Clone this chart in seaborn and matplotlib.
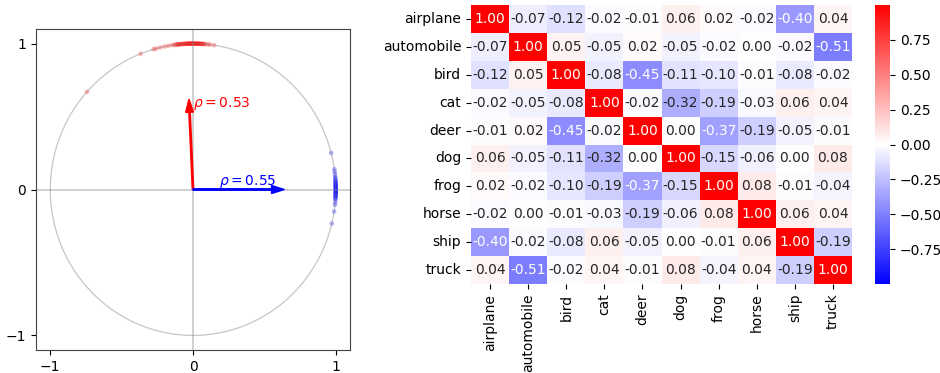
import numpy as np
import pandas as pd
import matplotlib
matplotlib.use("Agg")
import matplotlib.pyplot as plt
import seaborn as sns

# Angles (degrees) of the embedded samples on the unit circle, per class
red_angles = [138, 111.5, 106, 105, 103.3, 101.5, 100, 98.5, 97.5, 97, 96.5, 96,
              95.5, 95, 94.5, 94, 93.5, 93, 92.5, 92, 91.5, 91, 90.5, 90, 89.5,
              89, 88.5, 88, 87.5, 87, 86.5, 86, 85.5, 85, 84, 83.2, 81.5,
              93, 92, 91, 90, 89, 88, 87, 92.5, 90.5, 88.5, 96, 95, 94,
              91.5, 89.5, 87.5, 86]
blue_angles = [14.5, 8, 7, 6, 5, 4.5, 4, 3.5, 3, 2.5, 2, 1.5, 1, 0.5, 0, -0.5,
               -1, -1.5, -2, -2.5, -3, -3.5, -4, -5, -6, -8.7, -13.5,
               2, 1, 0, -1, -2, 3, -3, 0.5, -0.5, 1.5, -1.5]

# Mean direction (degrees) and concentration of each class
arrow_angles = [92.6, 0.0]
rhos = [0.53, 0.55]
arrow_colors = ["red", "blue"]

classes = ["airplane", "automobile", "bird", "cat", "deer",
           "dog", "frog", "horse", "ship", "truck"]
corr = [
    [1.00, -0.07, -0.12, -0.02, -0.01, 0.06, 0.02, -0.02, -0.40, 0.04],
    [-0.07, 1.00, 0.05, -0.05, 0.02, -0.05, -0.02, 0.00, -0.02, -0.51],
    [-0.12, 0.05, 1.00, -0.08, -0.45, -0.11, -0.10, -0.01, -0.08, -0.02],
    [-0.02, -0.05, -0.08, 1.00, -0.02, -0.32, -0.19, -0.03, 0.06, 0.04],
    [-0.01, 0.02, -0.45, -0.02, 1.00, 0.00, -0.37, -0.19, -0.05, -0.01],
    [0.06, -0.05, -0.11, -0.32, 0.00, 1.00, -0.15, -0.06, 0.00, 0.08],
    [0.02, -0.02, -0.10, -0.19, -0.37, -0.15, 1.00, 0.08, -0.01, -0.04],
    [-0.02, 0.00, -0.01, -0.03, -0.19, -0.06, 0.08, 1.00, 0.06, 0.04],
    [-0.40, -0.02, -0.08, 0.06, -0.05, 0.00, -0.01, 0.06, 1.00, -0.19],
    [0.04, -0.51, -0.02, 0.04, -0.01, 0.08, -0.04, 0.04, -0.19, 1.00],
]
cbar_ticks = [-0.75, -0.5, -0.25, 0.0, 0.25, 0.5, 0.75]

fig = plt.figure(figsize=(9.4, 3.73), dpi=100)
ax = fig.add_axes([36 / 940, 23 / 373, 314 / 940, 321 / 373])
hax = fig.add_axes([471 / 940, 89 / 373, 381 / 940, 279 / 373])
cax = fig.add_axes([875 / 940, 89 / 373, 15 / 940, 279 / 373])

# Unit circle and reference axes
t = np.linspace(0, 2 * np.pi, 400)
ax.plot(np.cos(t), np.sin(t), color="gray", lw=0.9, alpha=0.45)
ax.axhline(0, color="gray", lw=1.3, alpha=0.4)
ax.axvline(0, color="gray", lw=1.3, alpha=0.4)

pts = pd.DataFrame({
    "x": np.cos(np.deg2rad(red_angles + blue_angles)),
    "y": np.sin(np.deg2rad(red_angles + blue_angles)),
    "cls": ["a"] * len(red_angles) + ["b"] * len(blue_angles),
})
sns.scatterplot(data=pts, x="x", y="y", hue="cls",
                palette={"a": "red", "b": "blue"}, s=11, alpha=0.3,
                edgecolor="none", legend=False, ax=ax)

for ang, rho, col in zip(arrow_angles, rhos, arrow_colors):
    dx = rho * np.cos(np.deg2rad(ang))
    dy = rho * np.sin(np.deg2rad(ang))
    ax.arrow(0, 0, dx, dy, width=0.01, head_width=0.055, head_length=0.09,
             color=col, length_includes_head=False, zorder=5)

ax.text(0.0, 0.59, rf"$\rho = {rhos[0]:.2f}$", color=arrow_colors[0],
        ha="left", va="center", fontsize=10)
ax.text(0.18, -0.005, rf"$\rho = {rhos[1]:.2f}$", color=arrow_colors[1],
        ha="left", va="bottom", fontsize=10)

ax.set_xlim(-1.1, 1.1)
ax.set_ylim(-1.1, 1.1)
ax.set_xticks([-1, 0, 1])
ax.set_yticks([-1, 0, 1])
ax.set_xlabel("")
ax.set_ylabel("")
for sp in ax.spines.values():
    sp.set_color("#444444")

# Class correlation heatmap
df = pd.DataFrame(corr, index=classes, columns=classes)
sns.heatmap(df, annot=True, fmt=".2f", cmap="bwr", vmin=-1, vmax=1,
            ax=hax, cbar_ax=cax, annot_kws={"fontsize": 10})
cax.set_yticks(cbar_ticks)
cax.tick_params(labelsize=10)
hax.tick_params(labelsize=10)

fig.savefig("out.png", dpi=100)
